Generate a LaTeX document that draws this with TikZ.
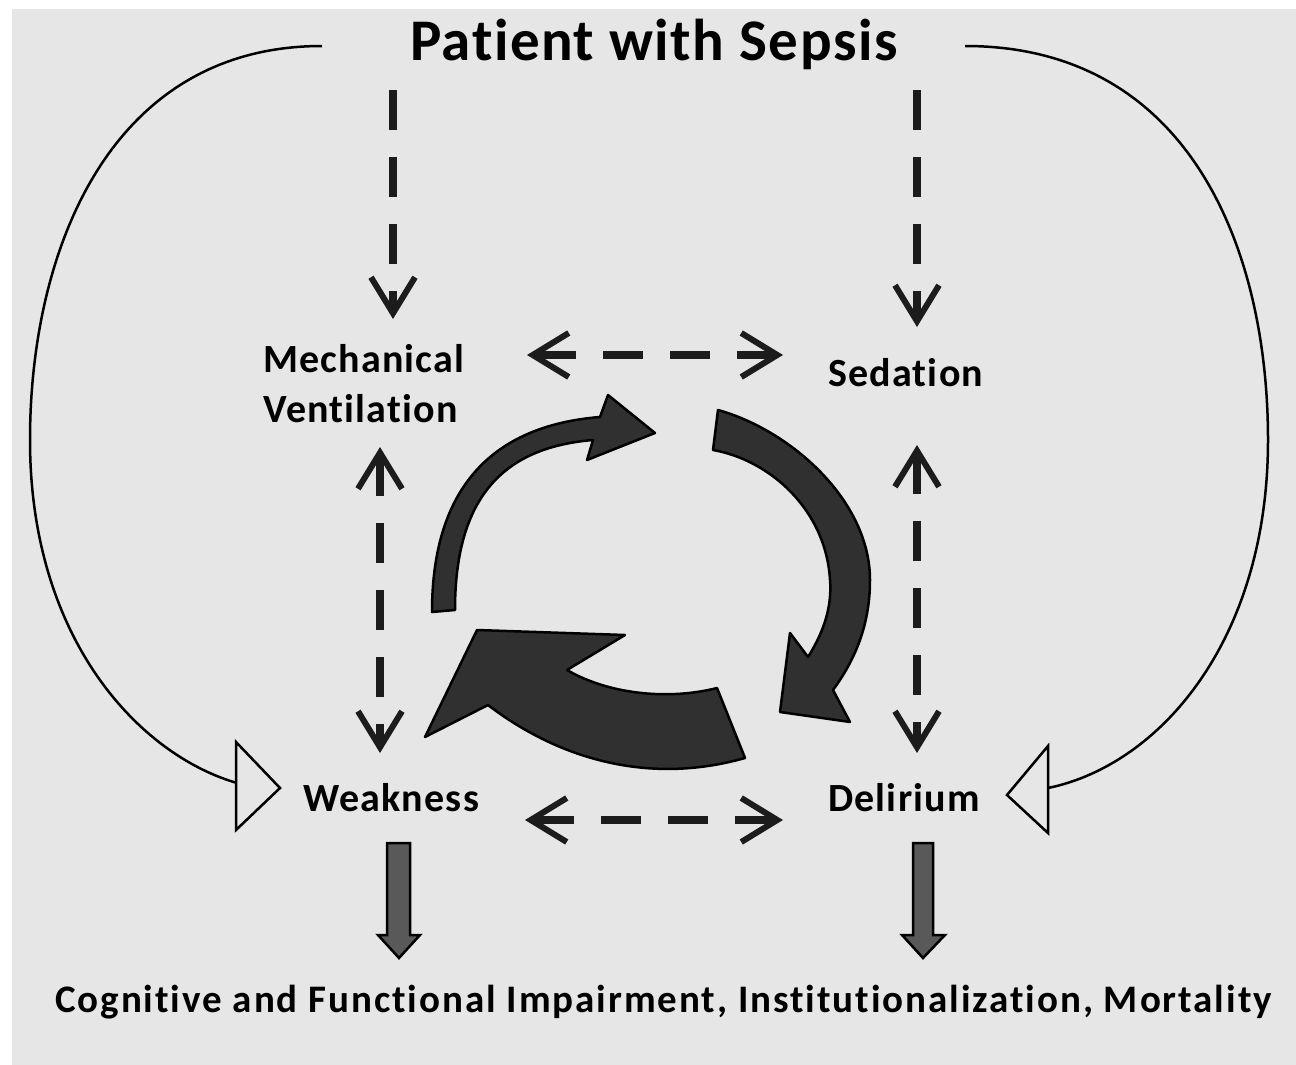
\documentclass[tikz,border=0pt]{standalone}
\usepackage{fontspec}
\setmainfont{Carlito}[Ligatures=NoCommon]
\newfontfamily\lblfont{Carlito}[Ligatures=NoCommon, LetterSpace=3]
\newfontfamily\titfont{Carlito}[Ligatures=NoCommon, LetterSpace=2.6]
\newfontfamily\outfont{Carlito}[Ligatures=NoCommon, LetterSpace=4.95]
\usetikzlibrary{arrows.meta}
\definecolor{bg}{HTML}{E6E6E6}
\definecolor{dk}{HTML}{1C1C1C}
\definecolor{cyc}{HTML}{303030}
\definecolor{shaft}{HTML}{595959}
\begin{document}
\begin{tikzpicture}[x=1pt,y=-1pt,
 lbl/.style={inner sep=0pt, anchor=base west, font=\lblfont\bfseries\fontsize{40}{48}\selectfont},
 dasharr/.style={draw=dk, line width=8pt, dash pattern=on 40pt off 27pt, >={Straight Barb[length=36pt,width=44pt,line width=6pt]}},
 thinline/.style={draw=black, line width=2.5pt},
 opentri/.style={draw=black, line width=2.5pt, fill=bg, line join=miter},
 blockarr/.style={draw=black, line width=2.5pt, fill=shaft},
 cycarr/.style={draw=black, line width=2.5pt, fill=cyc, line join=round}
]
\useasboundingbox (0,0) rectangle (1296,1065);
\fill[white] (0,0) rectangle (1296,1065);
\fill[bg] (12,9) rectangle (1296,1065);

% texts
\node[lbl, font=\titfont\bfseries\fontsize{59}{70}\selectfont] (title) at (410,60) {Patient with Sepsis};
\node[lbl] (mech) at (263,372) {Mechanical};
\node[lbl] (vent) at (263,422) {Ventilation};
\node[lbl] (sed) at (828,386) {Sedation};
\node[lbl] (weak) at (303,811) {Weakness};
\node[lbl] (del) at (828,811) {Delirium};
\node[lbl, font=\outfont\bfseries\fontsize{39}{46}\selectfont] (outc) at (55,1012) {Cognitive and Functional Impairment, Institutionalization, Mortality};

% dashed connectors
\coordinate (tl0) at (393,90);  \coordinate (tl1) at (393,319);
\coordinate (tr0) at (917,90);  \coordinate (tr1) at (917,327);
\coordinate (hu0) at (527,355); \coordinate (hu1) at (783,355);
\coordinate (hd0) at (525,820); \coordinate (hd1) at (783,820);
\coordinate (vl0) at (380,447); \coordinate (vl1) at (380,753);
\coordinate (vr0) at (917,445); \coordinate (vr1) at (917,753);
\draw[dasharr,->] (tl0) -- (tl1);
\draw[dasharr,->] (tr0) -- (tr1);
\draw[dasharr,<->] (hu0) -- (hu1);
\draw[dasharr,<->] (hd0) -- (hd1);
\draw[dasharr,<->] (vl0) -- (vl1);
\draw[dasharr,<->] (vr0) -- (vr1);

% thin outer curves with open triangles
\coordinate (lc0) at (322,46); \coordinate (lc1) at (237,783);
\coordinate (rc0) at (965,46); \coordinate (rc1) at (1048,788);
\draw[thinline] (lc0) .. controls (110,46) and (30,250) .. (30,440) .. controls (30,640) and (140,755) .. (lc1);
\draw[thinline] (rc0) .. controls (1190,46) and (1268,250) .. (1268,440) .. controls (1268,640) and (1160,765) .. (rc1);
\filldraw[opentri] (236,742) -- (280,788) -- (236,830) -- cycle;
\filldraw[opentri] (1048,746) -- (1007,795) -- (1048,833) -- cycle;

% block arrows to outcome
\filldraw[blockarr] (387,843) -- (410,843) -- (410,935) -- (420,935) -- (399,958) -- (378,935) -- (387,935) -- cycle;
\filldraw[blockarr] (913,843) -- (933,843) -- (933,935) -- (945,935) -- (923,958) -- (902,935) -- (913,935) -- cycle;

% cycle arrows
\filldraw[cycarr] (455,610) -- (432,612) .. controls (432,480) and (500,425) .. (600,417) -- (608,395) -- (655,433) -- (587,460) -- (593,440) .. controls (510,447) and (455,490) .. (455,610) -- cycle;
\filldraw[cycarr] (713,450) -- (718,410) .. controls (790,430) and (870,500) .. (870,580) .. controls (870,625) and (855,660) .. (833,690) -- (850,722) -- (780,712) -- (790,633) -- (808,657) .. controls (825,630) and (832,605) .. (830,580) .. controls (826,510) and (770,460) .. (713,450) -- cycle;
\filldraw[cycarr] (745,758) -- (717,688) .. controls (670,700) and (610,695) .. (567,670) -- (625,635) -- (477,630) -- (425,737) -- (488,705) .. controls (560,760) and (650,785) .. (745,758) -- cycle;
\end{tikzpicture}
\end{document}
